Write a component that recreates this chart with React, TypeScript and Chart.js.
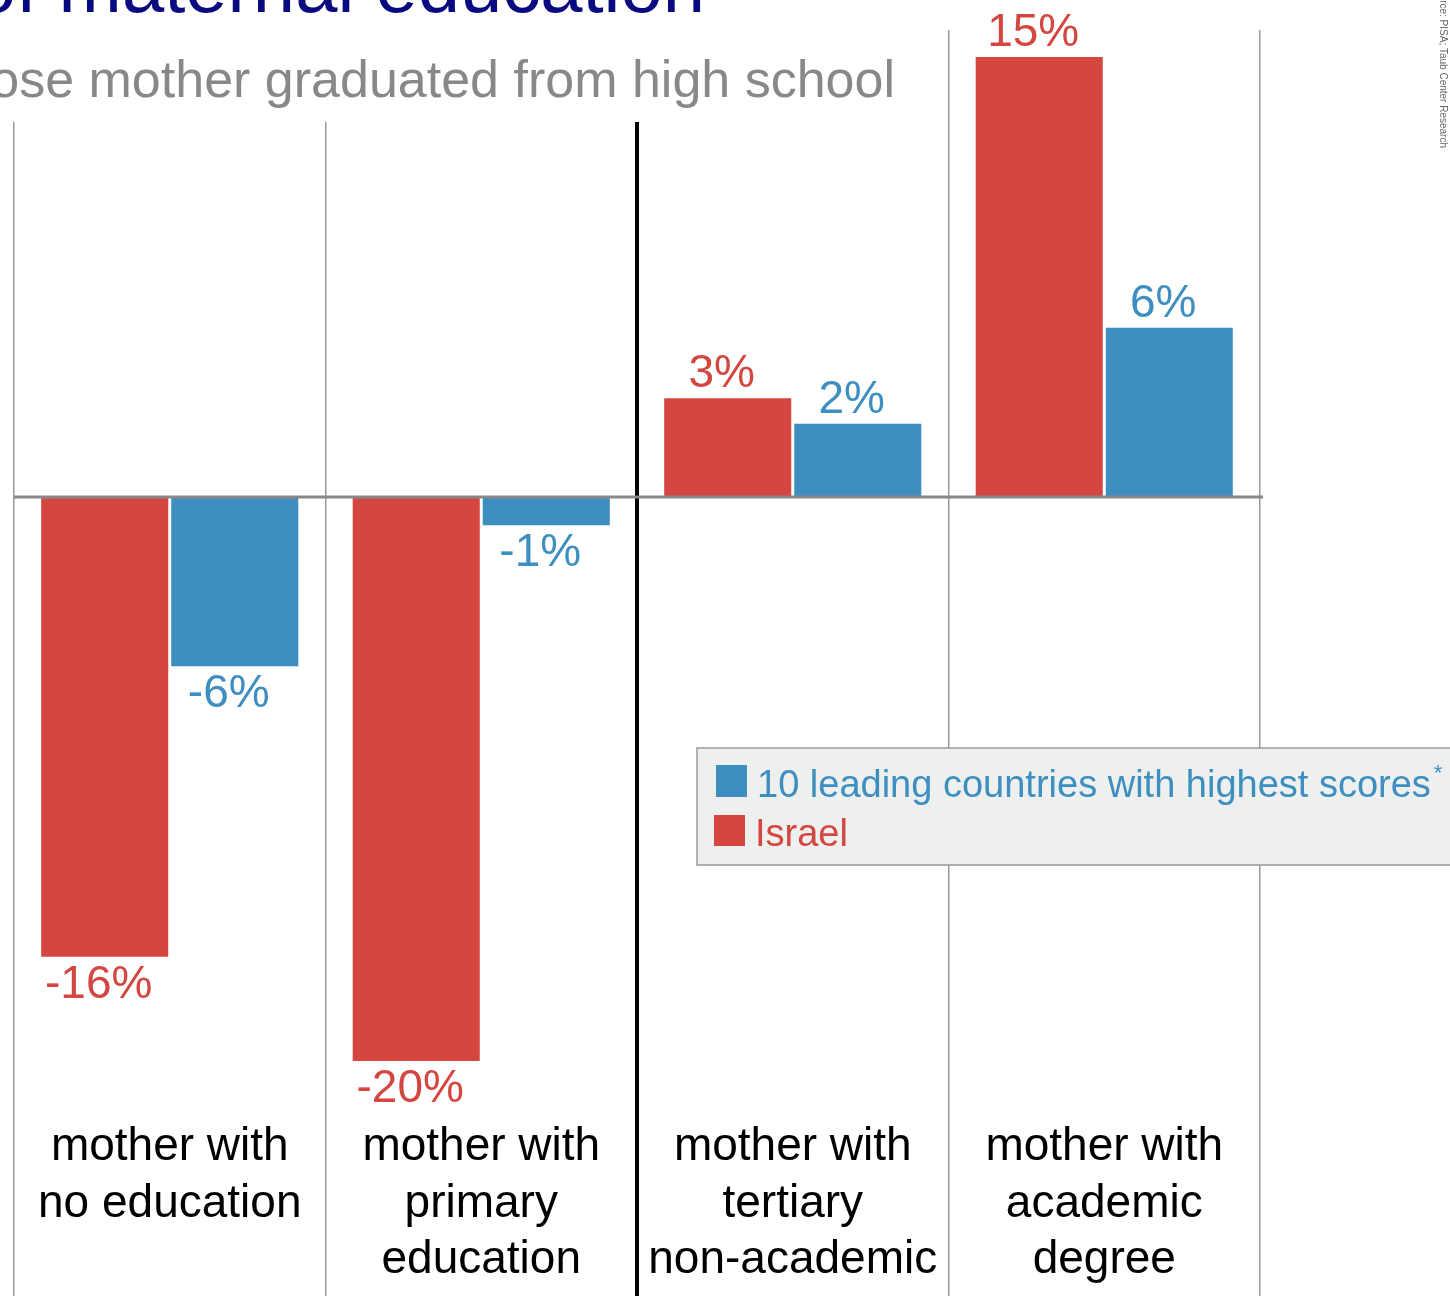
import React, { useEffect, useRef } from "react";
import { Chart, registerables } from "chart.js";

Chart.register(...registerables);

// ---- data ----
const categories: string[][] = [
  ["mother with", "no education"],
  ["mother with", "primary", "education"],
  ["mother with", "tertiary", "non-academic"],
  ["mother with", "academic", "degree"],
];
const israelValues = [-16.3, -20.0, 3.5, 15.6];
const leadingValues = [-6.0, -1.0, 2.6, 6.0];
const israelLabels = ["-16%", "-20%", "3%", "15%"];
const leadingLabels = ["-6%", "-1%", "2%", "6%"];
const israelName = "Israel";
const leadingName = "10 leading countries with highest scores";
const titleText = "Achievement gaps by level of maternal education";
const subtitleText =
  "Change in scores relative to students whose mother graduated from high school";
const sourceText = "Source: PISA; Taub Center Research";
const yMin = -28.33;
const yMax = 16.56;

// ---- styles ----
const RED = "#d44640";
const BLUE = "#3e8ec0";
const FONT = "'Liberation Sans', Arial, sans-serif";

const decorPlugin = {
  id: "decor",
  afterDatasetsDraw(chart: any) {
    const ctx = chart.ctx as CanvasRenderingContext2D;
    const area = chart.chartArea;
    const y = chart.scales.y;
    const zero = y.getPixelForValue(0);
    ctx.save();
    // zero line
    ctx.strokeStyle = "#888888";
    ctx.lineWidth = 3;
    ctx.beginPath();
    ctx.moveTo(area.left, zero);
    ctx.lineTo(area.right + 3, zero);
    ctx.stroke();

    // value labels
    ctx.font = `46px ${FONT}`;
    ctx.textAlign = "center";
    ctx.textBaseline = "alphabetic";
    const sets = [
      { labels: israelLabels, color: RED },
      { labels: leadingLabels, color: BLUE },
    ];
    sets.forEach((s, d) => {
      const meta = chart.getDatasetMeta(d);
      meta.data.forEach((el: any, i: number) => {
        const v = chart.data.datasets[d].data[i] as number;
        ctx.fillStyle = s.color;
        const ty = v >= 0 ? el.y - 11 : el.y + 41;
        ctx.fillText(s.labels[i], el.x - 6, ty);
      });
    });
    ctx.restore();
  },
  afterDraw(chart: any) {
    const ctx = chart.ctx as CanvasRenderingContext2D;
    const x = chart.scales.x;
    ctx.save();

    // white box behind title / subtitle
    ctx.fillStyle = "#ffffff";
    ctx.fillRect(0, 0, 920, 122);

    // title
    ctx.fillStyle = "#0a0a80";
    ctx.font = `76px ${FONT}`;
    ctx.textAlign = "right";
    ctx.textBaseline = "alphabetic";
    ctx.fillText(titleText, 705, 12);

    // subtitle
    ctx.fillStyle = "#888888";
    ctx.font = `52px ${FONT}`;
    ctx.fillText(subtitleText, 895, 97);

    // category labels
    ctx.fillStyle = "#000000";
    ctx.font = `46px ${FONT}`;
    ctx.textAlign = "center";
    categories.forEach((lines, i) => {
      const cx = x.getPixelForValue(i);
      lines.forEach((ln, j) => {
        ctx.fillText(ln, cx, 1160 + j * 56.5);
      });
    });

    // legend
    ctx.fillStyle = "#eef0ef";
    ctx.fillRect(697, 748, 770, 117);
    ctx.strokeStyle = "#999999";
    ctx.lineWidth = 1.5;
    ctx.strokeRect(697, 748, 770, 117);

    ctx.textAlign = "left";
    ctx.fillStyle = BLUE;
    ctx.fillRect(716, 765, 31, 32);
    ctx.font = `38px ${FONT}`;
    ctx.fillText(leadingName, 757, 797);
    const w = ctx.measureText(leadingName).width;
    ctx.font = `22px ${FONT}`;
    ctx.fillText("*", 757 + w + 3, 780);

    ctx.fillStyle = RED;
    ctx.fillRect(714, 815, 31, 31);
    ctx.font = `38px ${FONT}`;
    ctx.fillText(israelName, 755, 846);

    // rotated source text
    ctx.save();
    ctx.translate(1440, 0);
    ctx.rotate(Math.PI / 2);
    ctx.fillStyle = "#666666";
    ctx.font = `10px ${FONT}`;
    ctx.textAlign = "right";
    ctx.fillText(sourceText, 148, 0);
    ctx.restore();

    ctx.restore();
  },
};

export default function App() {
  const canvasRef = useRef<HTMLCanvasElement | null>(null);

  useEffect(() => {
    document.body.style.margin = "0";
    document.body.style.overflow = "hidden";
    const canvas = canvasRef.current;
    if (!canvas) return;
    const chart = new Chart(canvas, {
      type: "bar",
      data: {
        labels: categories.map((c) => c.join(" ")),
        datasets: [
          {
            label: israelName,
            data: israelValues,
            backgroundColor: RED,
            borderWidth: 0,
            categoryPercentage: 0.835,
            barPercentage: 0.977,
          },
          {
            label: leadingName,
            data: leadingValues,
            backgroundColor: BLUE,
            borderWidth: 0,
            categoryPercentage: 0.835,
            barPercentage: 0.977,
          },
        ],
      },
      options: {
        responsive: false,
        animation: false,
        devicePixelRatio: 1,
        layout: { padding: { left: 14, right: 190, top: 30, bottom: 0 } },
        plugins: {
          legend: { display: false },
          tooltip: { enabled: false },
          title: { display: false },
        },
        scales: {
          x: {
            type: "category",
            offset: true,
            display: true,
            grid: {
              offset: true,
              drawTicks: false,
              color: (c: any) => (c.index === 2 ? "#000000" : "#999999"),
              lineWidth: (c: any) => (c.index === 2 ? 4 : 1.5),
            },
            ticks: { display: false },
            border: { display: false },
          },
          y: {
            display: false,
            min: yMin,
            max: yMax,
          },
        },
      },
      plugins: [decorPlugin],
    });
    return () => chart.destroy();
  }, []);

  return (
    <div style={{ position: "absolute", left: 0, top: 0, width: 1450, height: 1296, background: "#fff" }}>
      <canvas ref={canvasRef} width={1450} height={1296} style={{ display: "block" }} />
    </div>
  );
}
